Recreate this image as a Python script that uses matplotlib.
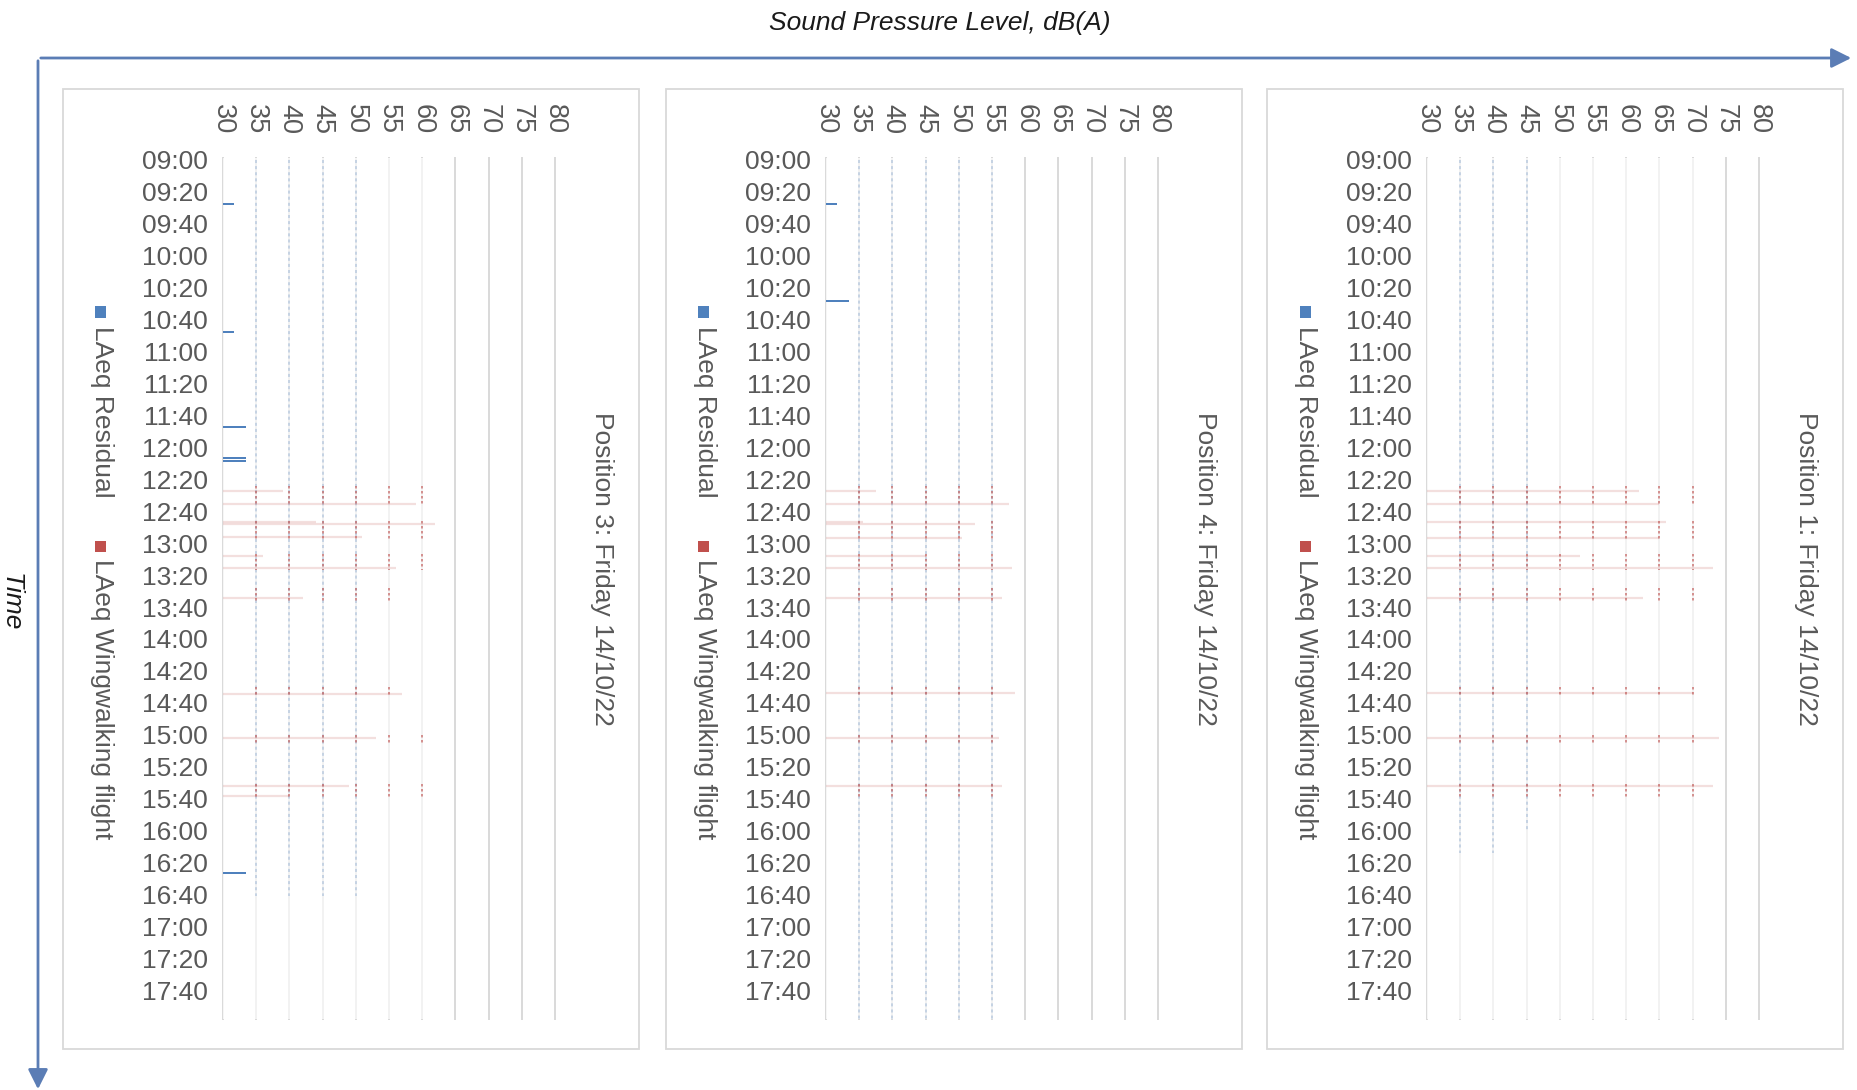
import matplotlib
matplotlib.use("Agg")
import matplotlib.pyplot as plt
from matplotlib.patches import Rectangle, FancyArrowPatch

plt.rcParams["font.family"] = ["Liberation Sans", "DejaVu Sans"]

BLUE = "#4F81BD"
RED = "#C0504D"
TXT = "#595959"
GRID = "#D9D9D9"

# SPL axis, dB(A)
spl_ticks = [30, 35, 40, 45, 50, 55, 60, 65, 70, 75, 80]
# time categories shown on the axis (every 20 min)
time_labels = ["09:00", "09:20", "09:40", "10:00", "10:20", "10:40", "11:00",
               "11:20", "11:40", "12:00", "12:20", "12:40", "13:00", "13:20",
               "13:40", "14:00", "14:20", "14:40", "15:00", "15:20", "15:40",
               "16:00", "16:20", "16:40", "17:00", "17:20", "17:40"]

panel_titles = ["Position 3: Friday 14/10/22",
                "Position 4: Friday 14/10/22",
                "Position 1: Friday 14/10/22"]
series_names = ["LAeq Residual", "LAeq Wingwalking flight"]

# wingwalking flight windows, minutes after 09:00 (same flights at every position)
flight_start = [204, 226, 247, 268, 330, 360, 391]
flight_end = [217, 238, 257, 276, 336, 366, 400]

# highest level band reached in each flight window
p3_flight_top = [60, 60, 60, 55, 55, 60, 60]
p4_flight_top = [55, 55, 55, 55, 55, 55, 55]
p1_flight_top = [70, 70, 70, 70, 70, 70, 70]

# flight LAeq traces that show up as streaks (minute, dB)
p3_flight_t = [207.5, 215.5, 226.5, 228.0, 236.0, 248.0, 255.5, 274.5, 334.5, 362.0, 392.0, 398.5]
p3_flight_db = [39, 59, 44, 62, 51, 36, 56, 42, 57, 53, 49, 40]
p4_flight_t = [207.5, 215.5, 226.5, 228.0, 237.0, 248.0, 255.5, 274.5, 334.0, 362.0, 392.0]
p4_flight_db = [37.5, 57.5, 35.5, 52.5, 50.5, 45, 58, 56.5, 58.5, 56, 56.5]
p1_flight_t = [207.5, 215.5, 226.5, 237.0, 248.0, 255.5, 274.5, 334.0, 362.0, 392.0]
p1_flight_db = [62, 65, 66, 65, 53, 73, 62.5, 70, 74, 73]

# residual LAeq bars that render visibly (minute, dB)
p3_res_t = [27.5, 107.5, 167.0, 186.5, 188.5, 446.5]
p3_res_db = [31.6, 31.6, 33.5, 33.5, 33.5, 33.5]
p4_res_t = [27.5, 88.5]
p4_res_db = [31.6, 33.4]
p1_res_t = []
p1_res_db = []

# residual level bands traced through the day (dB, end minute)
p3_res_band = [35, 40, 45, 50]
p3_res_end = [461, 461, 461, 461]
p4_res_band = [35, 40, 45, 50, 55]
p4_res_end = [538, 538, 538, 538, 538]
p1_res_band = [35, 40, 45]
p1_res_end = [434, 434, 420]

panels = [
    dict(title=panel_titles[0], res_t=p3_res_t, res_db=p3_res_db, band=p3_res_band,
         band_end=p3_res_end, top=p3_flight_top, ft=p3_flight_t, fdb=p3_flight_db),
    dict(title=panel_titles[1], res_t=p4_res_t, res_db=p4_res_db, band=p4_res_band,
         band_end=p4_res_end, top=p4_flight_top, ft=p4_flight_t, fdb=p4_flight_db),
    dict(title=panel_titles[2], res_t=p1_res_t, res_db=p1_res_db, band=p1_res_band,
         band_end=p1_res_end, top=p1_flight_top, ft=p1_flight_t, fdb=p1_flight_db),
]

W, H = 1858, 1090


def fx(px):
    return px / W


def fy(py):
    return 1 - py / H


def minutes(lbl):
    h, m = lbl.split(":")
    return int(h) * 60 + int(m) - 540


fig = plt.figure(figsize=(W / 100, H / 100), dpi=100)

tick_pos = [minutes(t) for t in time_labels]
offsets = [0, 603, 1204]

for p, dx in zip(panels, offsets):
    # panel frame
    fig.add_artist(Rectangle((fx(63 + dx), fy(1049)), 576 / W, 960 / H,
                             transform=fig.transFigure, fill=False,
                             ec=GRID, lw=1.3))

    ax = fig.add_axes([fx(223 + dx), fy(1019), 332 / W, (1019 - 157.6) / H])
    ax.set_xlim(spl_ticks[0], spl_ticks[-1])
    ax.set_ylim(538, -1.5)
    for s in ax.spines.values():
        s.set_visible(False)

    ax.xaxis.tick_top()
    ax.set_xticks(spl_ticks)
    ax.set_xticklabels([str(v) for v in spl_ticks], rotation=-90)
    ax.set_yticks(tick_pos)
    ax.set_yticklabels(time_labels)
    ax.tick_params(axis="x", length=0, pad=17, labelsize=19.5, labelcolor=TXT)
    ax.tick_params(axis="y", length=0, pad=11, labelsize=19, labelcolor=TXT)
    ax.set_axisbelow(True)
    ax.grid(axis="x", color=GRID, lw=1.4)
    ax.grid(axis="y", visible=False)
    for gl in ax.get_xgridlines():
        gl.set_clip_on(False)

    # dense data washes out the gridlines underneath it
    ax.axvspan(spl_ticks[0], max(p["fdb"]), color="white", alpha=0.65, zorder=1)

    # residual level traces
    for b, e in zip(p["band"], p["band_end"]):
        ax.vlines(b, 0, e, color=BLUE, alpha=0.35, lw=1.1,
                  linestyles=(0, (2, 2)), zorder=2)

    # flight windows
    for s, e, top in zip(flight_start, flight_end, p["top"]):
        for g in spl_ticks[1:]:
            if g <= top:
                ax.vlines(g, s, e, color=RED, alpha=0.7, lw=1.2,
                          linestyles=(0, (1.5, 1.5)), zorder=3)
    ax.hlines(p["ft"], spl_ticks[0], p["fdb"], color=RED, alpha=0.18,
              lw=1.6, zorder=3)

    # visible residual bars
    if p["res_t"]:
        ax.barh(p["res_t"], [d - spl_ticks[0] for d in p["res_db"]],
                left=spl_ticks[0], height=1.3, color=BLUE, zorder=4)

    # legend (rotated, Excel style)
    fig.add_artist(Rectangle((fx(95.5 + dx), fy(317.5)), 11 / W, 11 / H,
                             transform=fig.transFigure, color=BLUE, lw=0))
    fig.text(fx(102 + dx), fy(326), series_names[0], rotation=-90,
             ha="center", va="top", fontsize=19, color=TXT)
    fig.add_artist(Rectangle((fx(95.5 + dx), fy(552)), 11 / W, 11 / H,
                             transform=fig.transFigure, color=RED, lw=0))
    fig.text(fx(102 + dx), fy(559), series_names[1], rotation=-90,
             ha="center", va="top", fontsize=19, color=TXT)

    fig.text(fx(602 + dx), fy(569), p["title"], rotation=-90,
             ha="center", va="center", fontsize=19, color=TXT)

# outer axis arrows
fig.add_artist(FancyArrowPatch((fx(38), fy(58)), (fx(1854), fy(58)),
                               transform=fig.transFigure,
                               arrowstyle="-|>,head_length=0.6,head_width=0.3",
                               mutation_scale=20, color="#5B7DB5", lw=2))
fig.add_artist(FancyArrowPatch((fx(38), fy(58)), (fx(38), fy(1092)),
                               transform=fig.transFigure,
                               arrowstyle="-|>,head_length=0.6,head_width=0.3",
                               mutation_scale=20, color="#5B7DB5", lw=2))

fig.text(fx(940), fy(23), "Sound Pressure Level, dB(A)", ha="center",
         va="center", fontsize=19, style="italic", color="#1A1A1A")
fig.text(fx(11), fy(602), "Time", rotation=-90, ha="center", va="center",
         fontsize=19, style="italic", color="#1A1A1A")

fig.savefig("out.png", dpi=100)
